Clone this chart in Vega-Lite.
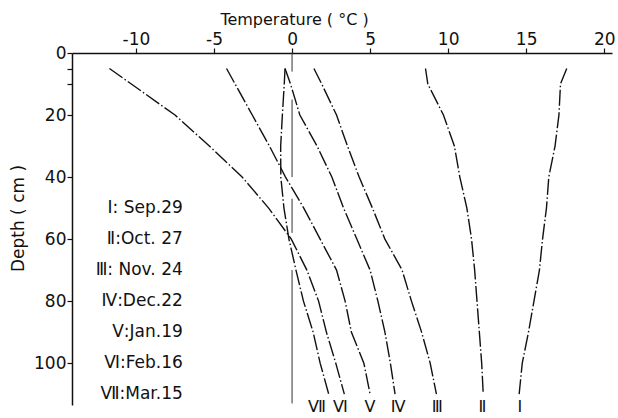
{
  "$schema": "https://vega.github.io/schema/vega-lite/v6.json",
  "autosize": {"type": "none"},
  "width": 540,
  "height": 352,
  "padding": {"left": 72, "top": 53, "right": 6, "bottom": 13},
  "background": "white",
  "config": {
    "view": {"stroke": null},
    "font": "DejaVu Sans",
    "axis": {"domainColor": "#111", "tickColor": "#111", "labelColor": "#111", "titleColor": "#111", "grid": false, "labelFont": "DejaVu Sans", "titleFont": "DejaVu Sans", "titleFontWeight": "normal"}
  },
  "datasets": {
    "profiles": [
      {"series": "I", "depth": 5, "temp": 17.6}, {"series": "I", "depth": 10, "temp": 17.2}, {"series": "I", "depth": 20, "temp": 17.1}, {"series": "I", "depth": 30, "temp": 16.85}, {"series": "I", "depth": 40, "temp": 16.45}, {"series": "I", "depth": 50, "temp": 16.3}, {"series": "I", "depth": 60, "temp": 16.05}, {"series": "I", "depth": 70, "temp": 15.85}, {"series": "I", "depth": 80, "temp": 15.5}, {"series": "I", "depth": 90, "temp": 15.15}, {"series": "I", "depth": 100, "temp": 14.75}, {"series": "I", "depth": 110, "temp": 14.55},
      {"series": "II", "depth": 5, "temp": 8.55}, {"series": "II", "depth": 10, "temp": 8.7}, {"series": "II", "depth": 20, "temp": 9.7}, {"series": "II", "depth": 30, "temp": 10.4}, {"series": "II", "depth": 40, "temp": 10.75}, {"series": "II", "depth": 50, "temp": 11.2}, {"series": "II", "depth": 60, "temp": 11.5}, {"series": "II", "depth": 70, "temp": 11.7}, {"series": "II", "depth": 80, "temp": 11.85}, {"series": "II", "depth": 90, "temp": 12.0}, {"series": "II", "depth": 100, "temp": 12.15}, {"series": "II", "depth": 110, "temp": 12.25},
      {"series": "III", "depth": 5, "temp": 1.4}, {"series": "III", "depth": 10, "temp": 1.9}, {"series": "III", "depth": 20, "temp": 2.85}, {"series": "III", "depth": 30, "temp": 3.55}, {"series": "III", "depth": 40, "temp": 4.3}, {"series": "III", "depth": 50, "temp": 5.15}, {"series": "III", "depth": 60, "temp": 5.95}, {"series": "III", "depth": 70, "temp": 7.05}, {"series": "III", "depth": 80, "temp": 7.65}, {"series": "III", "depth": 90, "temp": 8.3}, {"series": "III", "depth": 100, "temp": 8.85}, {"series": "III", "depth": 110, "temp": 9.25},
      {"series": "IV", "depth": 5, "temp": -0.45}, {"series": "IV", "depth": 10, "temp": -0.1}, {"series": "IV", "depth": 20, "temp": 0.5}, {"series": "IV", "depth": 30, "temp": 1.6}, {"series": "IV", "depth": 40, "temp": 2.55}, {"series": "IV", "depth": 50, "temp": 3.3}, {"series": "IV", "depth": 60, "temp": 4.15}, {"series": "IV", "depth": 70, "temp": 5.0}, {"series": "IV", "depth": 80, "temp": 5.5}, {"series": "IV", "depth": 90, "temp": 5.95}, {"series": "IV", "depth": 100, "temp": 6.3}, {"series": "IV", "depth": 110, "temp": 6.6},
      {"series": "V", "depth": 5, "temp": -4.2}, {"series": "V", "depth": 10, "temp": -3.65}, {"series": "V", "depth": 20, "temp": -2.55}, {"series": "V", "depth": 30, "temp": -1.45}, {"series": "V", "depth": 40, "temp": -0.42}, {"series": "V", "depth": 50, "temp": 0.75}, {"series": "V", "depth": 60, "temp": 1.8}, {"series": "V", "depth": 70, "temp": 2.85}, {"series": "V", "depth": 80, "temp": 3.4}, {"series": "V", "depth": 90, "temp": 3.8}, {"series": "V", "depth": 100, "temp": 4.6}, {"series": "V", "depth": 110, "temp": 5.0},
      {"series": "VI", "depth": 5, "temp": -11.7}, {"series": "VI", "depth": 10, "temp": -10.3}, {"series": "VI", "depth": 20, "temp": -7.5}, {"series": "VI", "depth": 30, "temp": -5.3}, {"series": "VI", "depth": 40, "temp": -3.2}, {"series": "VI", "depth": 50, "temp": -1.5}, {"series": "VI", "depth": 60, "temp": -0.05}, {"series": "VI", "depth": 70, "temp": 0.95}, {"series": "VI", "depth": 80, "temp": 1.7}, {"series": "VI", "depth": 90, "temp": 2.2}, {"series": "VI", "depth": 100, "temp": 2.8}, {"series": "VI", "depth": 110, "temp": 3.35},
      {"series": "VII", "depth": 5, "temp": -0.45}, {"series": "VII", "depth": 10, "temp": -0.5}, {"series": "VII", "depth": 20, "temp": -0.62}, {"series": "VII", "depth": 30, "temp": -0.73}, {"series": "VII", "depth": 40, "temp": -0.72}, {"series": "VII", "depth": 50, "temp": -0.52}, {"series": "VII", "depth": 60, "temp": -0.2}, {"series": "VII", "depth": 70, "temp": 0.25}, {"series": "VII", "depth": 80, "temp": 0.73}, {"series": "VII", "depth": 90, "temp": 1.35}, {"series": "VII", "depth": 100, "temp": 1.8}, {"series": "VII", "depth": 110, "temp": 2.35}
    ],
    "zeroline": [
      {"d1": 0, "d2": 6}, {"d1": 15, "d2": 40}, {"d1": 47, "d2": 58}, {"d1": 70, "d2": 113}
    ],
    "legend": [
      {"text": "Ⅰ: Sep.29", "depth": 50, "temp": -7.0},
      {"text": "Ⅱ:Oct. 27", "depth": 60, "temp": -7.0},
      {"text": "Ⅲ: Nov. 24", "depth": 70, "temp": -7.0},
      {"text": "Ⅳ:Dec.22", "depth": 80, "temp": -7.0},
      {"text": "Ⅴ:Jan.19", "depth": 90, "temp": -7.0},
      {"text": "Ⅵ:Feb.16", "depth": 100, "temp": -7.0},
      {"text": "Ⅶ:Mar.15", "depth": 110, "temp": -7.0}
    ],
    "endlabels": [
      {"text": "Ⅰ", "depth": 114.3, "temp": 14.6},
      {"text": "Ⅱ", "depth": 114.3, "temp": 12.2},
      {"text": "Ⅲ", "depth": 114.3, "temp": 9.3},
      {"text": "Ⅳ", "depth": 114.3, "temp": 6.8},
      {"text": "Ⅴ", "depth": 114.3, "temp": 5.0},
      {"text": "Ⅵ", "depth": 114.3, "temp": 3.1},
      {"text": "Ⅶ", "depth": 114.3, "temp": 1.6}
    ]
  },
  "layer": [
    {
      "data": {"name": "zeroline"},
      "mark": {"type": "rule", "color": "#333", "strokeWidth": 1},
      "encoding": {
        "x": {"datum": 0, "type": "quantitative", "scale": {"domain": [-14.1, 20.5], "nice": false, "zero": false}},
        "y": {"field": "d1", "type": "quantitative", "scale": {"domain": [0, 113.5], "reverse": true, "nice": false}},
        "y2": {"field": "d2"}
      }
    },
    {
      "data": {"name": "profiles"},
      "mark": {"type": "line", "color": "#111", "strokeWidth": 1.4, "strokeDash": [16, 2.5, 1.5, 2.5]},
      "encoding": {
        "x": {"field": "temp", "type": "quantitative", "scale": {"domain": [-14.1, 20.5], "nice": false, "zero": false},
          "axis": {"orient": "top", "title": "Temperature ( °C )", "titleFontSize": 16, "titleX": 222, "titlePadding": 3, "labelFontSize": 17, "labelPadding": 0, "tickSize": 5, "values": [-10, -5, 0, 5, 10, 15, 20], "labelExpr": "(datum.value < 0 ? '-' : '') + abs(datum.value)", "domainWidth": 1.5, "tickWidth": 1.2, "labelFlush": false}},
        "y": {"field": "depth", "type": "quantitative", "scale": {"domain": [0, 113.5], "reverse": true, "nice": false},
          "axis": {"title": "Depth ( cm )", "titleFontSize": 17, "titlePadding": 6, "titleY": 165, "labelFontSize": 17, "labelPadding": 1, "tickSize": 5, "values": [0, 5, 10, 20, 40, 60, 80, 100], "labelExpr": "datum.value == 5 || datum.value == 10 ? '' : datum.label", "domainWidth": 1.5, "tickWidth": 1.2}},
        "detail": {"field": "series"},
        "order": {"field": "depth", "type": "quantitative"}
      }
    },
    {
      "data": {"name": "legend"},
      "mark": {"type": "text", "align": "right", "baseline": "middle", "fontSize": 17, "color": "#111", "font": "DejaVu Sans"},
      "encoding": {
        "x": {"field": "temp", "type": "quantitative"},
        "y": {"field": "depth", "type": "quantitative"},
        "text": {"field": "text"}
      }
    },
    {
      "data": {"name": "endlabels"},
      "mark": {"type": "text", "align": "center", "baseline": "middle", "fontSize": 16, "color": "#111", "font": "DejaVu Sans"},
      "encoding": {
        "x": {"field": "temp", "type": "quantitative"},
        "y": {"field": "depth", "type": "quantitative"},
        "text": {"field": "text"}
      }
    }
  ]
}
